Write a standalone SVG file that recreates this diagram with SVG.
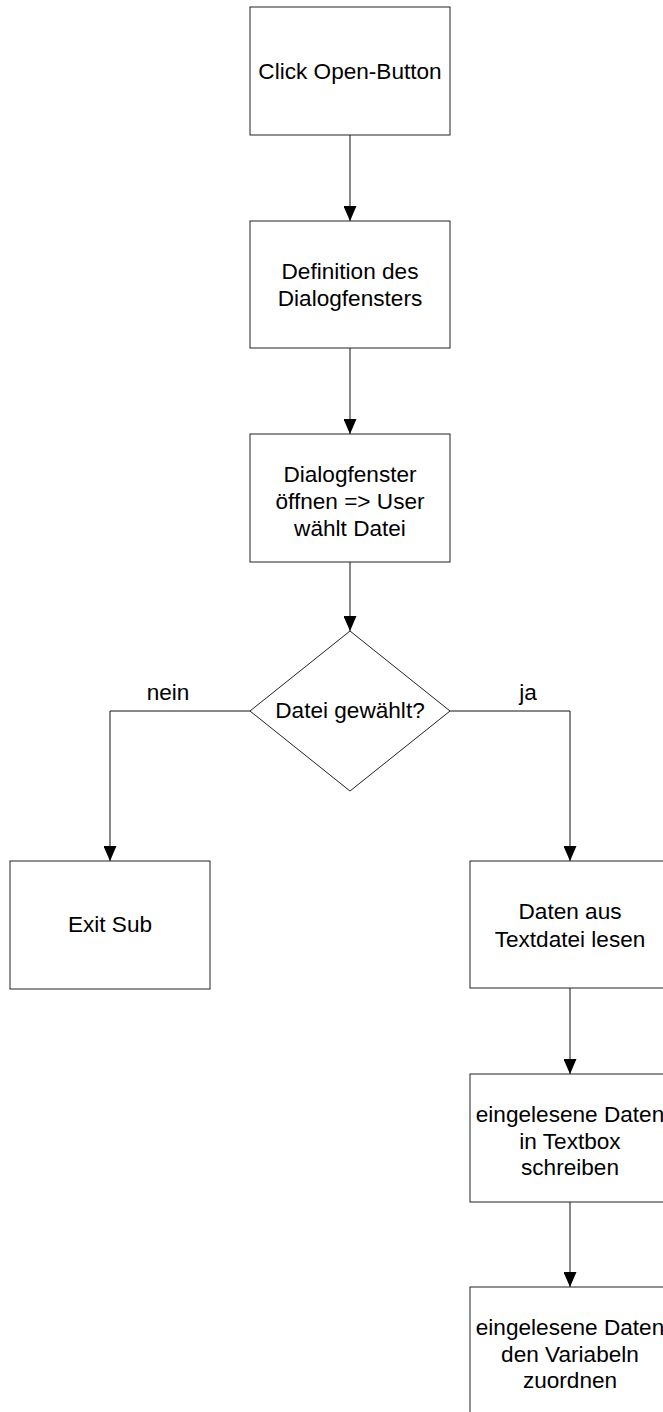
<svg xmlns="http://www.w3.org/2000/svg" width="663" height="1412" viewBox="0 0 663 1412">
<style>
.box{fill:#fff;stroke:#222;stroke-width:1}
.t{font-family:"Liberation Sans",Arial,sans-serif;font-size:22.6px;fill:#000;text-anchor:middle}
.c{fill:none;stroke:#111;stroke-width:1}
</style>
<defs>
<marker id="arr" markerUnits="userSpaceOnUse" markerWidth="15" markerHeight="13" refX="15" refY="6.5" orient="auto">
<path d="M0,0 L15,6.5 L0,13 z" fill="#000"/>
</marker>
</defs>
<rect width="663" height="1412" fill="#fff"/>
<g id="connectors">
<path class="c" d="M350,135 L350,221" marker-end="url(#arr)"/>
<path class="c" d="M350,348 L350,434" marker-end="url(#arr)"/>
<path class="c" d="M350,562 L350,631" marker-end="url(#arr)"/>
<path class="c" d="M250,711 L110,711 L110,861" marker-end="url(#arr)"/>
<path class="c" d="M450,711 L570,711 L570,861" marker-end="url(#arr)"/>
<path class="c" d="M570,988 L570,1074" marker-end="url(#arr)"/>
<path class="c" d="M570,1202 L570,1287" marker-end="url(#arr)"/>
<text class="t" x="168" y="700">nein</text>
<text class="t" x="528" y="700">ja</text>
</g>
<g id="n1">
<rect class="box" x="250" y="7" width="200" height="128"/>
<text class="t" x="350" y="79">Click Open-Button</text>
</g>
<g id="n2">
<rect class="box" x="250" y="221" width="200" height="127"/>
<text class="t" x="350" y="279">Definition des</text>
<text class="t" x="350" y="306">Dialogfensters</text>
</g>
<g id="n3">
<rect class="box" x="250" y="434" width="200" height="128"/>
<text class="t" x="350" y="482">Dialogfenster</text>
<text class="t" x="350" y="509">öffnen =&gt; User</text>
<text class="t" x="350" y="536">wählt Datei</text>
</g>
<g id="d1">
<polygon class="box" points="350,631 450,711 350,791 250,711"/>
<text class="t" x="350" y="718">Datei gewählt?</text>
</g>
<g id="n4">
<rect class="box" x="10" y="861" width="200" height="128"/>
<text class="t" x="110" y="932">Exit Sub</text>
</g>
<g id="n5">
<rect class="box" x="470" y="861" width="200" height="127"/>
<text class="t" x="570" y="919">Daten aus</text>
<text class="t" x="570" y="947">Textdatei lesen</text>
</g>
<g id="n6">
<rect class="box" x="470" y="1074" width="200" height="128"/>
<text class="t" x="570" y="1122">eingelesene Daten</text>
<text class="t" x="570" y="1148.5">in Textbox</text>
<text class="t" x="570" y="1175">schreiben</text>
</g>
<g id="n7">
<rect class="box" x="470" y="1287" width="200" height="128"/>
<text class="t" x="570" y="1335">eingelesene Daten</text>
<text class="t" x="570" y="1362">den Variabeln</text>
<text class="t" x="570" y="1388">zuordnen</text>
</g>
</svg>
